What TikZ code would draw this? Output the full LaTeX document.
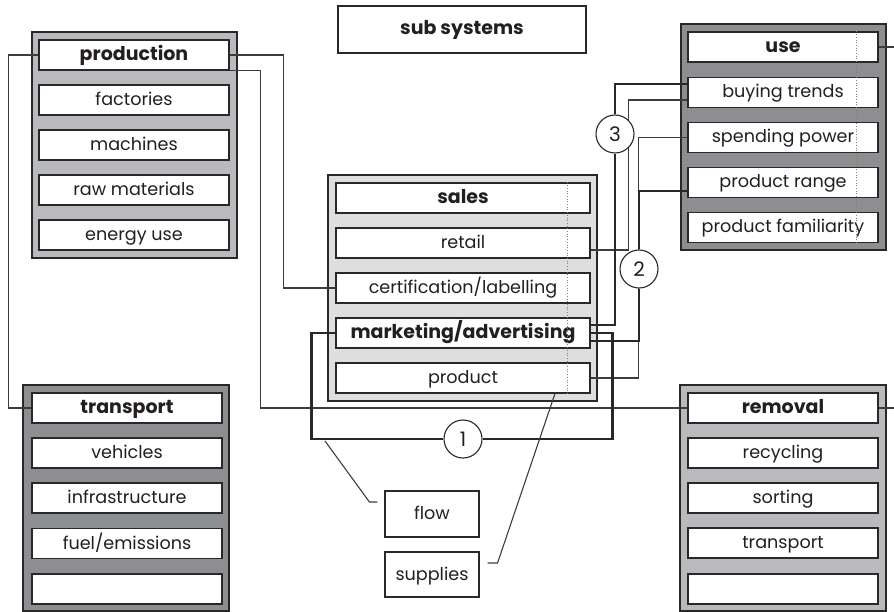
\documentclass[tikz,border=0pt]{standalone}
\usepackage{fontspec}
\setmainfont{Poppins}
\usetikzlibrary{calc}
\pgfdeclarelayer{fg}
\pgfsetlayers{main,fg}
\definecolor{midg}{RGB}{185,186,189}
\definecolor{lightg}{RGB}{221,222,224}
\definecolor{darkg}{RGB}{141,142,146}
\definecolor{edge}{RGB}{40,40,40}
\definecolor{wirec}{RGB}{60,60,60}
\definecolor{ink}{RGB}{35,31,32}
\begin{document}
\begin{tikzpicture}[x=1pt,y=-1pt,
  every node/.style={text=ink},
  txt/.style={font=\fontsize{17.6}{20}\selectfont},
  hd/.style={font=\fontsize{19}{22}\selectfont\bfseries},
  blk/.style={draw=edge, line width=1.1pt, minimum width=205pt, minimum height=226pt, inner sep=0pt},
  box/.style={txt, draw=edge, fill=white, line width=1.1pt, minimum width=190pt, minimum height=30pt, inner sep=0pt, text height=14pt, text depth=3pt},
  sbox/.style={box, minimum width=254pt},
  circ/.style={font=\fontsize{20}{22}\selectfont, circle, draw=edge, fill=white, line width=1.1pt, minimum size=38pt, inner sep=0pt},
  wire/.style={draw=wirec, line width=1.1pt},
  thk/.style={draw=edge, line width=2.6pt}]
\useasboundingbox (0,0) rectangle (894,612);

% sub systems
\node[box, hd, minimum width=248pt, minimum height=47pt] (sub) at (462,29.5) {sub systems};

% production
\node[blk, fill=midg] (P) at (134.5,145) {};
\node[box, hd] (prod) at (134,55) {production};
\node[box] (p1) at (134,100) {factories};
\node[box] (p2) at (134,145) {machines};
\node[box] (p3) at (134,190) {raw materials};
\node[box] (p4) at (134,235) {energy use};

% sales
\node[blk, fill=lightg, minimum width=269pt] (S) at (462.5,288) {};
\node[sbox, hd] (sal) at (463,198) {sales};
\node[sbox] (ret) at (463,243) {retail};
\node[sbox] (cert) at (463,288) {certification/labelling};
\node[sbox, hd] (mkt) at (463,333) {marketing/advertising};
\node[sbox] (prd) at (463,378) {product};

% use
\node[blk, fill=darkg] (U) at (783.5,137) {};
\node[box, hd] (use) at (783,47) {use};
\node[box] (buy) at (783,92.5) {buying trends};
\node[box] (spd) at (783,137.5) {spending power};
\node[box] (rng) at (783,182.5) {product range};
\node[box] (fam) at (783,227.5) {product familiarity};

% transport
\node[blk, fill=darkg, minimum width=206pt] (T) at (126,498) {};
\node[box, hd] (tra) at (127,408) {transport};
\node[box] (t1) at (127,453) {vehicles};
\node[box] (t2) at (127,498) {infrastructure};
\node[box] (t3) at (127,543.5) {fuel/emissions};
\node[box] (t4) at (127,589) {};

% removal
\node[blk, fill=midg, minimum width=206pt] (R) at (783,498) {};
\node[box, hd] (rem) at (783,408) {removal};
\node[box] (r1) at (783,453) {recycling};
\node[box] (r2) at (783,498) {sorting};
\node[box] (r3) at (783,543) {transport};
\node[box] (r4) at (783,589) {};

% legend boxes
\node[box, minimum width=94pt, minimum height=46pt] (flow) at (432,514) {flow};
\node[box, minimum width=94pt, minimum height=45pt] (supp) at (432,574.5) {supplies};

% circles
\begin{pgfonlayer}{fg}
\node[circ] (c1) at (463,439) {1};
\node[circ] (c2) at (639,269) {2};
\node[circ] (c3) at (615,134) {3};
\end{pgfonlayer}

\coordinate (ue) at (894,47);
\coordinate (re) at (894,408);
\coordinate (fl) at (325,441);

% thin connectors
\draw[wire] (prod.west) -- ++(-30,0) |- (tra.west);
\draw[wire] (prod.east) -- ++(54,0) |- (cert.west);
\draw[wire] (prod.south east) -- ++(31,0) |- (rem.west);
\draw[wire] ([yshift=-7pt]ret.east) -| ([xshift=-59pt,yshift=-7.5pt]buy.west) -- ([yshift=-7.5pt]buy.west);
\draw[wire] (prd.east) -| ([xshift=-49pt]spd.west) -- (spd.west);
\draw[wire] (use.east) -- (ue);
\draw[wire] (rem.east) -- (re);

% thick connectors
\draw[thk] ([yshift=8pt]mkt.east) -| (c3.south);
\draw[thk] (c3.north) |- ([yshift=8.5pt]buy.west);
\draw[thk] ([yshift=-8pt]mkt.east) -| (c2.south);
\draw[thk] (c2.north) |- ([yshift=-8.5pt]rng.west);
\draw[thk] (mkt.west) -- ++(-24,0) |- (c1.west);
\draw[thk] (c1.east) -| ([xshift=22pt]mkt.east) -- (mkt.east);

% legend leaders
\draw[wire] ([xshift=-7pt,yshift=12pt]flow.west) -- ++(-8,0) -- (fl);
\draw[wire] ([xshift=8pt,yshift=11.5pt]supp.east) -- ++(10,0) -- ([xshift=92pt]prd.south);

% dotted guides
\draw[gray, dotted, line width=0.7pt] ([xshift=104pt]sal.north) -- ([xshift=104pt]prd.south);
\draw[gray, dotted, line width=0.7pt] ([xshift=73pt]use.north) -- ([xshift=73pt]fam.south);
\end{tikzpicture}
\end{document}
